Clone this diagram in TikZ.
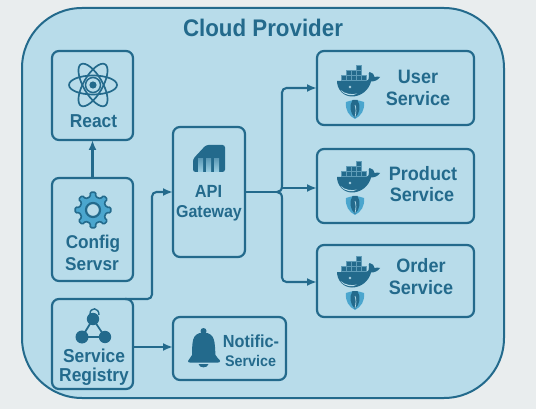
\documentclass[tikz,border=0pt]{standalone}
\usepackage{fontspec}
\setmainfont{Liberation Sans}[FakeStretch=0.93]
\usetikzlibrary{arrows.meta}
\definecolor{ink}{HTML}{236A8C}
\definecolor{panel}{HTML}{B8DCEA}
\definecolor{paper}{HTML}{E9EDEE}
\definecolor{accent}{HTML}{4BA6CE}
\definecolor{pale}{HTML}{9CD0E4}
\definecolor{seam}{HTML}{5F9CB8}
\tikzset{
  x=1pt,y=-1pt,
  cloudbox/.style={draw=ink,line width=2pt,fill=panel,rounded corners=60pt,minimum width=482pt,minimum height=390pt,inner sep=0pt,outer sep=0pt},
  svcbox/.style={draw=ink,line width=2.2pt,rounded corners=7pt,inner sep=0pt,outer sep=0pt},
  conn/.style={draw=ink,line width=2.1pt,rounded corners=4.5pt},
  arrowed/.style={conn,-{Latex[length=10pt,width=8pt]}},
  lbl/.style={text=ink,font=\bfseries\fontsize{#1}{#1}\selectfont,inner sep=0pt,anchor=base},
  crate/.style={draw=seam,fill=ink,line width=.45pt},
  whale/.pic={
    \fill[ink] (-21,-7) -- (8,-7) .. controls (10.5,-7) and (11,-9) .. (11,-12) .. controls (10.5,-14) and (10.5,-15) .. (11.5,-16)
      .. controls (14.5,-15.5) and (16.5,-13.5) .. (16.5,-11) .. controls (18.5,-11.5) and (20.5,-11.5) .. (22,-11)
      .. controls (20,-8) and (17,-6.5) .. (13,-6.5) .. controls (11,2) and (3,8.5) .. (-6,8.5)
      .. controls (-15,8.5) and (-21,1) .. (-21,-7) -- cycle;
    \foreach \i in {0,...,4} {\draw[crate] (-17+5*\i,-12.5) rectangle +(5,5);}
    \foreach \i in {0,...,2} {\draw[crate] (-12+5*\i,-17.5) rectangle +(5,5);}
    \draw[crate] (-2,-22.5) rectangle +(5,5);
    \fill[panel] (-17.5,2) .. controls (-13,6) and (-6,7) .. (-1,5.5) .. controls (-5,8.5) and (-13,8) .. (-17.5,2) -- cycle;
    \draw[panel,line width=.6pt] (-8,-1) circle (1);
    \fill[accent] (-12,14) .. controls (-9,13) and (-7,12.5) .. (-3,12) .. controls (1,12.5) and (3,13) .. (6,14)
      .. controls (7,22) and (3,28) .. (-3,31) .. controls (-9,28) and (-13,22) .. (-12,14) -- cycle;
    \fill[ink] (-5.5,12) -- (-0.5,12) .. controls (3,18) and (2,25) .. (-3,30) .. controls (-8,25) and (-9,18) .. (-5.5,12) -- cycle;
    \draw[panel,line width=.7pt] (-3,17) .. controls (-1.5,21) and (-2,25) .. (-3,29);
  }
}
\begin{document}
\begin{tikzpicture}
\useasboundingbox (0,0) rectangle (536,409);
\fill[paper] (0,0) rectangle (536,409);
\node[cloudbox] (cloud) at (263,203) {};
\node[lbl=24] (title) at (263,37) {Cloud Provider};

% boxes
\node[svcbox,minimum width=81pt,minimum height=89pt] (react) at (92.5,95.5) {};
\node[svcbox,minimum width=81pt,minimum height=103pt] (config) at (92.5,229.5) {};
\node[svcbox,minimum width=81pt,minimum height=90pt] (registry) at (92.5,344) {};
\node[svcbox,minimum width=72pt,minimum height=130pt] (gateway) at (209,192) {};
\node[svcbox,minimum width=113pt,minimum height=63pt] (notify) at (229.5,348.5) {};
\node[svcbox,minimum width=157pt,minimum height=74pt] (user) at (395.5,88) {};
\node[svcbox,minimum width=157pt,minimum height=74pt] (product) at (395.5,186) {};
\node[svcbox,minimum width=157pt,minimum height=72pt] (order) at (395.5,281) {};

% labels
\node[lbl=18.7] (tReact) at (93.5,128) {React};
\node[lbl=18.5] (tCfgA) at (93,248) {Config};
\node[lbl=18.5] (tCfgB) at (92,270) {Servsr};
\node[lbl=18.7] (tRegA) at (94,362) {Service};
\node[lbl=18.7] (tRegB) at (94,381) {Registry};
\node[lbl=17.6] (tApi) at (208.5,197) {API};
\node[lbl=17.2] (tGw) at (209,218) {Gateway};
\node[lbl=17.5] (tNotA) at (251,347) {Notific-};
\node[lbl=15.4] (tNotB) at (250.5,366) {Service};
\node[lbl=19.4] (tUserA) at (418,83.5) {User};
\node[lbl=19.4] (tUserB) at (418,106) {Service};
\node[lbl=19.4] (tProdA) at (423,181) {Product};
\node[lbl=19.4] (tProdB) at (422,202) {Service};
\node[lbl=19.4] (tOrdA) at (421,272.5) {Order};
\node[lbl=19.4] (tOrdB) at (421,294) {Service};

% connectors
\coordinate (regout) at ([xshift=-8pt]registry.north east);
\coordinate (regbus) at (152,299);
\coordinate (trunk) at (282,192);
\coordinate (trunkup) at (282,186);
\coordinate (trunkmid) at (282,188);
\coordinate (trunkdown) at (282,198);
\draw[arrowed] (config.north) -- (react.south);
\draw[arrowed] (regout) -- (regbus) -- (regbus |- gateway.east) -- (gateway.west);
\draw[arrowed] ([yshift=-3pt]registry.east) -- ([yshift=1.5pt]notify.west);
\draw[conn] (gateway.east) -- ([xshift=-5pt]trunk);
\draw[ink,line width=2.1pt] ([xshift=-5pt]trunk) .. controls ([xshift=-2pt]trunk) and (282,190) .. (trunkup);
\draw[ink,line width=2.1pt] ([xshift=-5pt]trunk) .. controls ([xshift=-2pt]trunk) and (282,194) .. (trunkdown);
\draw[arrowed] (trunkup) -- (trunkup |- user.west) -- (user.west);
\draw[arrowed] (trunkmid) -- ([yshift=-2pt]product.west);
\draw[arrowed] (trunkdown) |- ([yshift=-1pt]order.west);

% React icon
\begin{scope}[shift={(93,85)},ink]
  \foreach \r in {0,60,120} {\draw[line width=1.7pt,rotate=\r] (0,0) ellipse [x radius=24,y radius=9.5];}
  \draw[line width=1.5pt] (0,0) circle (7.5);
  \fill (0,0) circle (3.6);
\end{scope}

% Gear icon
\begin{scope}[shift={(93,210)}]
  \draw[ink,fill=accent,line width=1.6pt,line join=round,rounded corners=1.3pt]
    (-11:13.5) \foreach \a in {0,45,...,315} {
       -- (\a-11:13.5) -- (\a-9:18) -- (\a+9:18) -- (\a+11:13.5)
    } -- cycle;
  \draw[ink,fill=panel,line width=2.2pt] (0,0) circle (7);
\end{scope}

% API icon
\fill[ink,rounded corners=2.5pt] (193,172) -- (193,159) -- (206,145) -- (225,145) -- (225,172) -- cycle;
\shade[top color=seam,bottom color=pale] (198,159) rectangle (203,172);
\shade[top color=seam,bottom color=pale] (206,159) rectangle (211,172);
\shade[top color=seam,bottom color=pale] (214,159) rectangle (219,172);

% Registry icon
\begin{scope}[ink]
  \draw[line width=1.8pt] (93,319) -- (82,337) -- (105,337) -- cycle;
  \fill (93,319) circle (6.2) (82,337) circle (6.5) (105,337) circle (6.2);
  \draw[line width=1.4pt] (90,314) .. controls (90,307) and (99,307) .. (99,315);
\end{scope}

% Bell icon
\fill[ink] (203.5,331) circle (3);
\fill[ink] (192,355) .. controls (192.5,343) and (191,333) .. (203.5,332.5) .. controls (216,333) and (214.5,343) .. (215.5,355)
  .. controls (216,358) and (220,359) .. (220,361) .. controls (220,362) and (219.5,362.5) .. (218,362.5)
  -- (190,362.5) .. controls (188.5,362.5) and (188,362) .. (188,361) .. controls (188,359) and (191.5,358) .. (192,355) -- cycle;
\fill[ink] (198.5,364) .. controls (199,368.5) and (208,368.5) .. (208.5,364) -- cycle;

% Whale icons
\pic (wUser) at (358,88) {whale};
\pic (wProd) at (358,184) {whale};
\pic (wOrd) at (358,279) {whale};
\end{tikzpicture}
\end{document}
